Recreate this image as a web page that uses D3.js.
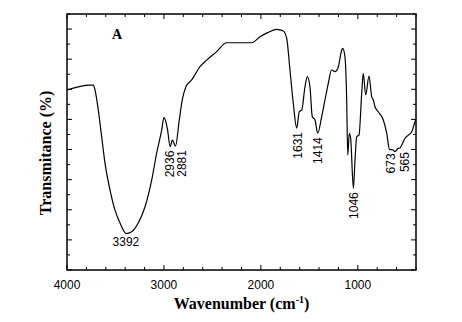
<!DOCTYPE html>
<html>
<head>
<meta charset="utf-8">
<script src="https://cdn.jsdelivr.net/npm/d3@7"></script>
<style>
  body { margin: 0; background: #fff; }
  svg { display: block; }
</style>
</head>
<body>
<svg id="chart"></svg>
<script>
// FTIR spectrum (wavenumber cm-1, transmittance arb.)
const wavenumber = [4000, 3763, 3729, 3711, 3677, 3642, 3608, 3556, 3505, 3453, 3402, 3392, 3333, 3265, 3195,
  3126, 3075, 3023, 3000, 2965, 2936, 2914, 2881, 2842, 2811, 2773, 2714, 2628, 2559, 2456, 2353, 2233,
  2095, 2009, 1924, 1837, 1769, 1734, 1700, 1666, 1631, 1604, 1579, 1545, 1521, 1494, 1470, 1442, 1414,
  1373, 1339, 1305, 1270, 1236, 1201, 1166, 1156, 1133, 1115, 1104, 1088, 1074, 1046, 1029, 1012, 988,
  960, 944, 919, 885, 857, 840, 823, 789, 737, 702, 673, 634, 617, 583, 565, 547, 513, 479, 444, 410, 400];
const transmittance = [11.95, 12.28, 12.28, 11.95, 10.62, 8.83, 7.10, 5.31, 3.98, 3.12, 2.48, 2.42, 2.54, 3.12, 4.20,
  5.98, 7.77, 9.30, 10.14, 9.41, 8.19, 8.63, 8.23, 9.96, 11.29, 12.17, 12.62, 13.50, 13.94, 14.50, 15.09, 15.09,
  15.09, 15.49, 15.78, 15.98, 15.87, 15.39, 13.28, 11.09, 9.43, 10.51, 10.62, 12.17, 12.84, 12.17, 10.18, 9.96, 9.08,
  10.18, 11.29, 12.40, 13.28, 13.17, 13.50, 14.61, 14.72, 14.16, 11.29, 7.64, 9.08, 8.75, 5.43, 7.30, 8.85, 8.96,
  11.73, 13.06, 11.62, 12.88, 11.51, 11.29, 10.84, 10.51, 9.96, 9.08, 8.01, 7.97, 7.86, 8.08, 8.10, 8.30, 8.75, 8.96, 9.18, 9.85, 10.0];

const peakLabels = ["3392", "2936", "2881", "1631", "1414", "1046", "673", "565"];
const xTicks = [4000, 3000, 2000, 1000];

const margin = { top: 14, right: 46, bottom: 52, left: 67 };
const width = 349, height = 256;

const svg = d3.select("#chart")
  .attr("width", 462)
  .attr("height", 322);

const g = svg.append("g").attr("transform", `translate(${margin.left},${margin.top})`);

const x = d3.scaleLinear().domain([4000, 400]).range([0, width]);
const y = d3.scaleLinear().domain([0, 17]).range([height, 0]);

const data = wavenumber.map((w, i) => ({ w: w, t: transmittance[i] }));

// minor ticks every 200, majors every 1000; y minors every 1, majors every 2
const xMinor = d3.range(4000, 399, -200);
const yAll = d3.range(0, 18, 1);

const tickStyle = sel => sel.attr("stroke", "#000").attr("stroke-width", 1);

// bottom + top ticks (inward)
g.append("g").selectAll("line").data(xMinor).join("line")
  .attr("x1", d => x(d)).attr("x2", d => x(d))
  .attr("y1", height).attr("y2", d => height - (d % 1000 === 0 ? 5 : 3))
  .call(tickStyle);
g.append("g").selectAll("line").data(xMinor).join("line")
  .attr("x1", d => x(d)).attr("x2", d => x(d))
  .attr("y1", 0).attr("y2", d => (d % 1000 === 0 ? 5 : 3))
  .call(tickStyle);

// left + right ticks (inward)
g.append("g").selectAll("line").data(yAll).join("line")
  .attr("y1", d => y(d)).attr("y2", d => y(d))
  .attr("x1", 0).attr("x2", d => (d % 2 === 0 ? 5 : 3))
  .call(tickStyle);
g.append("g").selectAll("line").data(yAll).join("line")
  .attr("y1", d => y(d)).attr("y2", d => y(d))
  .attr("x1", width).attr("x2", d => width - (d % 2 === 0 ? 5 : 3))
  .call(tickStyle);

// frame
g.append("rect")
  .attr("width", width).attr("height", height)
  .attr("fill", "none").attr("stroke", "#000").attr("stroke-width", 1.5);

// x tick labels
g.append("g").selectAll("text").data(xTicks).join("text")
  .attr("x", d => x(d))
  .attr("y", height + 19)
  .attr("text-anchor", "middle")
  .style("font-family", "Liberation Sans, Arial, sans-serif")
  .style("font-size", "12px")
  .text(d => d);

// spectrum
const line = d3.line()
  .x(d => x(d.w))
  .y(d => y(d.t))
  .curve(d3.curveMonotoneX);

g.append("path")
  .datum(data)
  .attr("d", line)
  .attr("fill", "none")
  .attr("stroke", "#000")
  .attr("stroke-width", 1.2);

// peak labels
const labelFont = sel => sel
  .style("font-family", "Liberation Sans, Arial, sans-serif")
  .style("font-size", "12px")
  .attr("fill", "#000");

const shift = { "2881": 6, "565": 5, "673": 1, "1631": 1 };
peakLabels.forEach(lbl => {
  const w = +lbl;
  const d = data.find(p => p.w === w);
  const px = x(w) + (shift[lbl] || 0);
  const py = y(d.t);
  if (lbl === "3392") {
    g.append("text")
      .attr("x", px).attr("y", py + 12)
      .attr("text-anchor", "middle")
      .call(labelFont)
      .text(lbl);
  } else {
    g.append("text")
      .attr("transform", `translate(${px},${py + 4}) rotate(-90)`)
      .attr("dy", "0.35em")
      .attr("text-anchor", "end")
      .call(labelFont)
      .text(lbl);
  }
});

// panel letter
g.append("text")
  .attr("x", 50).attr("y", 25)
  .attr("text-anchor", "middle")
  .style("font-family", "Liberation Serif, Times New Roman, serif")
  .style("font-weight", "bold")
  .style("font-size", "14px")
  .text("A");

// axis titles
const title = svg.append("text")
  .attr("x", margin.left + width / 2)
  .attr("y", 309)
  .attr("text-anchor", "middle")
  .style("font-family", "Liberation Serif, Times New Roman, serif")
  .style("font-weight", "bold")
  .style("font-size", "16px");
title.append("tspan").text("Wavenumber (cm");
title.append("tspan").attr("dy", -6).style("font-size", "10px").text("-1");
title.append("tspan").attr("dy", 6).text(")");

svg.append("text")
  .attr("transform", `translate(51,${153}) rotate(-90)`)
  .attr("text-anchor", "middle")
  .style("font-family", "Liberation Serif, Times New Roman, serif")
  .style("font-weight", "bold")
  .style("font-size", "16px")
  .text("Transmitance (%)");
</script>
</body>
</html>
